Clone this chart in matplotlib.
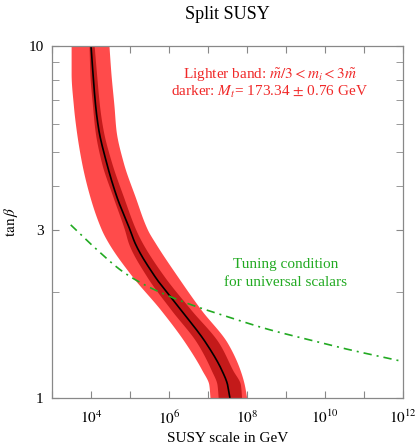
import numpy as np
import matplotlib
matplotlib.use("Agg")
import matplotlib.pyplot as plt
from matplotlib.ticker import FixedLocator, NullFormatter, FixedFormatter

plt.rcParams["font.family"] = ["Liberation Serif", "DejaVu Serif"]
plt.rcParams["mathtext.fontset"] = "stix"

# tan(beta) levels and log10(M_SUSY / GeV) along the Higgs-mass band
tanb = [10.0, 8.36, 6.73, 5.77, 4.65, 3.73, 3.00, 2.75, 2.21, 1.78, 1.43, 1.20, 1.09, 1.0]
center = [4.00, 4.05, 4.12, 4.20, 4.40, 4.66, 5.00, 5.13, 5.64, 6.30, 6.95, 7.35, 7.50, 7.56]
light_lo = [3.49, 3.49, 3.55, 3.62, 3.76, 3.97, 4.27, 4.45, 5.06, 5.78, 6.42, 6.84, 7.02, 7.05]
light_hi = [4.46, 4.51, 4.59, 4.64, 4.83, 5.13, 5.45, 5.65, 6.22, 6.82, 7.50, 7.82, 7.93, 7.99]
dark_lo = [3.95, 3.97, 4.04, 4.10, 4.27, 4.56, 4.86, 4.96, 5.43, 6.05, 6.72, 7.08, 7.23, 7.26]
dark_hi = [4.08, 4.14, 4.22, 4.31, 4.53, 4.83, 5.15, 5.32, 5.88, 6.56, 7.28, 7.63, 7.83, 7.86]

# tuning condition for universal scalars: log10(M_SUSY / GeV) vs tan(beta)
tune_logm = [3.48, 4.0, 4.87, 5.5, 6.5, 7.5, 8.5, 9.5, 10.5, 11.97]
tune_tanb = [3.10, 2.73, 2.26, 2.06, 1.85, 1.70, 1.57, 1.47, 1.38, 1.27]

x_ticks = [1e3, 1e4, 1e5, 1e6, 1e7, 1e8, 1e9, 1e10, 1e11, 1e12]
x_labels = ["", r"$10^4$", "", r"$10^6$", "", r"$10^8$", "", r"$10^{10}$", "", r"$10^{12}$"]
y_major = [1, 3, 10]
y_labels = ["1", "3", "10"]
y_minor = [2, 4, 5, 6, 7, 8, 9]


def pchip(x, y, xs):
    """Monotone piecewise-cubic (Fritsch-Carlson) interpolation."""
    x = np.asarray(x, float)
    y = np.asarray(y, float)
    h = np.diff(x)
    d = np.diff(y) / h
    n = len(x)
    m = np.zeros(n)
    for i in range(1, n - 1):
        if d[i - 1] * d[i] > 0:
            w1 = 2 * h[i] + h[i - 1]
            w2 = h[i] + 2 * h[i - 1]
            m[i] = (w1 + w2) / (w1 / d[i - 1] + w2 / d[i])
    m[0] = d[0]
    m[-1] = d[-1]
    idx = np.clip(np.searchsorted(x, xs) - 1, 0, n - 2)
    hh = h[idx]
    t = (xs - x[idx]) / hh
    h00 = 2 * t**3 - 3 * t**2 + 1
    h10 = t**3 - 2 * t**2 + t
    h01 = -2 * t**3 + 3 * t**2
    h11 = t**3 - t**2
    return h00 * y[idx] + h10 * hh * m[idx] + h01 * y[idx + 1] + h11 * hh * m[idx + 1]


ly = np.log10(tanb)[::-1]
ys = np.linspace(ly[0], ly[-1], 500)
tb_fine = 10**ys


def curve(vals):
    return 10**pchip(ly, np.asarray(vals)[::-1], ys)


fig = plt.figure(figsize=(4.16, 4.45), dpi=100)
ax = fig.add_axes([0.125, 0.106, 0.844, 0.791])

ax.fill_betweenx(tb_fine, curve(light_lo), curve(light_hi), color="#ff4b4b", lw=0)
ax.fill_betweenx(tb_fine, curve(dark_lo), curve(dark_hi), color="#c41a1a", lw=0)
ax.plot(curve(center), tb_fine, color="black", lw=1.2)

tx = np.linspace(tune_logm[0], tune_logm[-1], 300)
ty = 10**pchip(tune_logm, np.log10(tune_tanb), tx)
ax.plot(10**tx, ty, color="#22aa22", lw=1.2, dashes=(5, 3, 1.2, 3))

ax.set_xscale("log")
ax.set_yscale("log")
ax.set_xlim(1e3, 1e12)
ax.set_ylim(1, 10)

ax.xaxis.set_major_locator(FixedLocator(x_ticks))
ax.xaxis.set_major_formatter(FixedFormatter(x_labels))
ax.xaxis.set_minor_locator(FixedLocator([]))
ax.yaxis.set_major_locator(FixedLocator(y_major))
ax.yaxis.set_major_formatter(FixedFormatter(y_labels))
ax.yaxis.set_minor_locator(FixedLocator(y_minor))
ax.yaxis.set_minor_formatter(NullFormatter())

ax.tick_params(which="both", direction="in", top=True, right=True,
               color="#888888", length=5)
ax.tick_params(axis="x", labelsize=11, pad=8)
ax.tick_params(axis="y", labelsize=11, pad=6)
for s in ax.spines.values():
    s.set_color("#888888")
    s.set_linewidth(0.9)

ax.set_title("Split SUSY", fontsize=13, pad=19)
ax.set_xlabel("SUSY scale in GeV", fontsize=11, labelpad=4)
ax.set_ylabel(r"$\tan\beta$", fontsize=11, labelpad=6)

red = "#f02828"
ax.text(0.62, 0.918, r"Lighter band: $\tilde{m}/3 < m_i < 3\tilde{m}$",
        transform=ax.transAxes, ha="center", va="center", color=red, fontsize=11)
ax.text(0.62, 0.868, r"darker: $M_t$= 173.34 $\pm$ 0.76 GeV",
        transform=ax.transAxes, ha="center", va="center", color=red, fontsize=11)

green = "#22aa22"
ax.text(0.665, 0.378, "Tuning condition", transform=ax.transAxes,
        ha="center", va="center", color=green, fontsize=11)
ax.text(0.665, 0.327, "for universal scalars", transform=ax.transAxes,
        ha="center", va="center", color=green, fontsize=11)

fig.savefig("out.png", dpi=100)
